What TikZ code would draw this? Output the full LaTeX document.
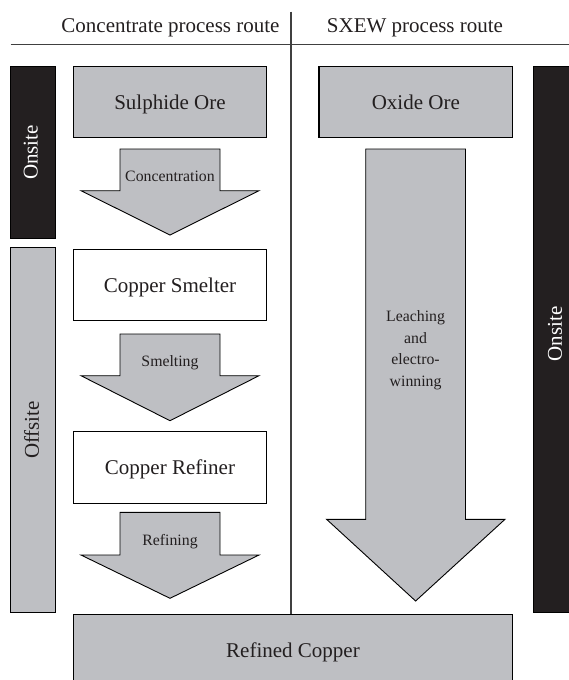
\documentclass[tikz,border=0pt]{standalone}
\usepackage{fontspec}
\setmainfont{Liberation Serif}
\usepackage{tikz}
\definecolor{boxgray}{RGB}{190,191,195}
\definecolor{barblack}{RGB}{35,31,32}

\begin{document}
\begin{tikzpicture}[x=1pt,y=-1pt,line join=miter,
  big/.style={font=\fontsize{21}{25}\selectfont,text=barblack},
  small/.style={font=\fontsize{15.8}{21.5}\selectfont,text=barblack,align=center},
  graybox/.style={draw=black,fill=boxgray,line width=1.1pt},
  whitebox/.style={draw=black,fill=white,line width=1.1pt},
  blockarrow/.style={draw=black,fill=boxgray,line width=0.9pt},
  rule/.style={draw=black!75,line width=1.3pt}]
\useasboundingbox (0,0) rectangle (569,680);
% header
\draw[rule] (10.7,44.3) -- (580,44.3);
\draw[rule] (291,11.7) -- (291,614.3);
\node[big,anchor=base] (hdconc) at (170.5,32.3) {Concentrate process route};
\node[big,anchor=base] (hdsxew) at (415,32.3) {SXEW process route};
% side bars
\fill[barblack,draw=black,line width=0.8pt] (10.5,66.7) rectangle (55,238.3);
\node[big,rotate=90,text=white] (onsiteL) at (30.8,152.5) {Onsite};
\fill[boxgray,draw=black,line width=0.8pt] (10.5,247.3) rectangle (55,612.3);
\node[big,rotate=90] (offsite) at (31.5,430) {Offsite};
\fill[barblack,draw=black,line width=0.8pt] (533,66.7) rectangle (580,612.3);
\node[big,rotate=90,text=white] (onsiteR) at (555,334) {Onsite};
% concentrate route
\draw[graybox] (73.5,66.7) rectangle (266.5,137.7);
\node[big,anchor=base] (sulphide) at (170,109) {Sulphide Ore};
\draw[whitebox] (73.5,249.3) rectangle (266.5,320.7);
\node[big,anchor=base] (smelter) at (170,292.3) {Copper Smelter};
\draw[whitebox] (73.5,431.7) rectangle (266.5,503.3);
\node[big,anchor=base] (refiner) at (170,474.3) {Copper Refiner};
\foreach \t/\b/\p in {149/190.7/235, 334/375.7/420.7, 512.3/555/598.3}
  \draw[blockarrow] (120,\t) -- (220,\t) -- (220,\b) -- (259,\b) -- (170,\p)
    -- (81,\b) -- (120,\b) -- cycle;
\node[small,anchor=base] (concentration) at (170,181.7) {Concentration};
\node[small,anchor=base] (smelting) at (170,366) {Smelting};
\node[small,anchor=base] (refining) at (170,545) {Refining};
% SXEW route
\draw[graybox] (319,66.7) rectangle (512.5,137.7);
\node[big,anchor=base] (oxide) at (415.8,109) {Oxide Ore};
\draw[blockarrow] (365.7,149) -- (465.5,149) -- (465.5,519.3) -- (505,519.3)
  -- (415.6,601) -- (326.6,519.3) -- (365.7,519.3) -- cycle;
\node[small] (leaching) at (415.6,350.4) {Leaching\\and\\electro-\\winning};
% product
\draw[graybox] (73.5,614.3) rectangle (512.5,690);
\node[big,anchor=base] (refined) at (293,657.3) {Refined Copper};
\end{tikzpicture}
\end{document}
